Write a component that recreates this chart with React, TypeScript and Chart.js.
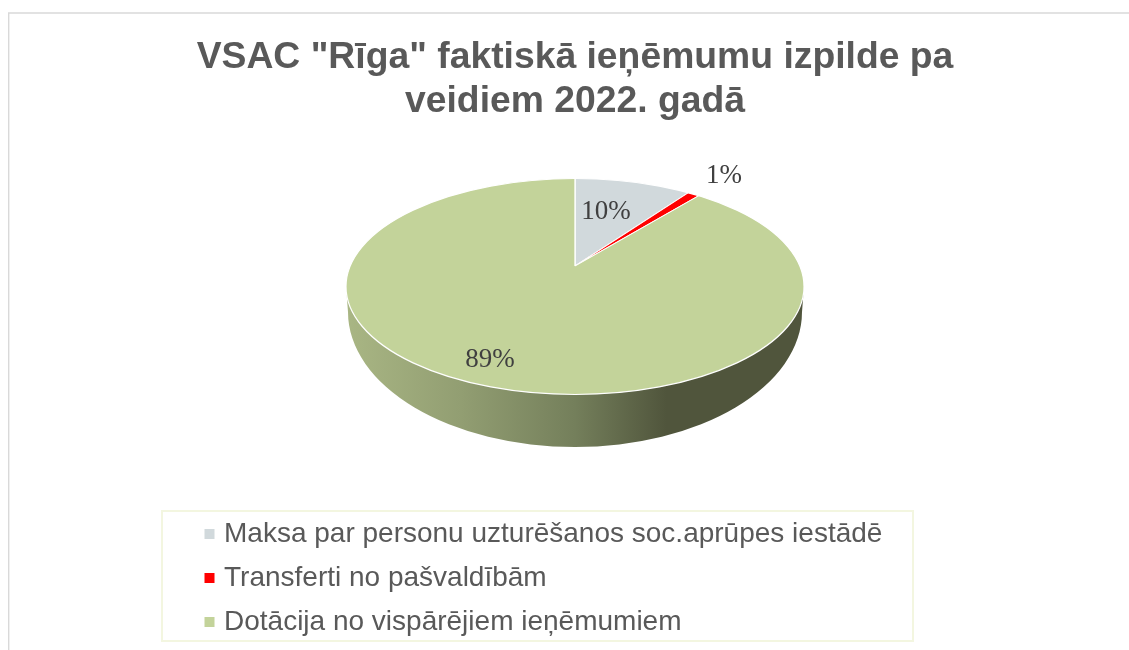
import React, { useEffect, useRef } from "react";
import { Chart, registerables } from "chart.js";

Chart.register(...registerables);

const titleLines = ['VSAC "Rīga" faktiskā ieņēmumu izpilde pa', "veidiem 2022. gadā"];
const categories = [
  "Maksa par personu uzturēšanos soc.aprūpes iestādē",
  "Transferti no pašvaldībām",
  "Dotācija no vispārējiem ieņēmumiem",
];
const values = [10, 1, 89];
const colors = ["#d1d9dc", "#ff0000", "#c3d39a"];
const labelCenters = [
  [606, 212],
  [724, 176],
  [490, 360],
];

const TOP = { cx: 575, cy: 286.5, rx: 229, ry: 108 };
const BASE = { cx: 575, cy: 312, rx: 227, ry: 135 };
const APEX = { x: 575, y: 266 };
const ZOOM = 1.3;
const TILT = 0.47;

const piePlugin = {
  id: "tiltedPie",
  beforeDraw(chart: any) {
    const { ctx } = chart;
    ctx.save();
    ctx.strokeStyle = "#d9d9d9";
    ctx.lineWidth = 1.4;
    ctx.beginPath();
    ctx.moveTo(8.7, 650);
    ctx.lineTo(8.7, 13);
    ctx.lineTo(1129, 13);
    ctx.stroke();
    ctx.restore();
  },
  beforeDatasetsDraw(chart: any) {
    const { ctx, chartArea } = chart;
    ctx.save();
    const g = ctx.createLinearGradient(TOP.cx - TOP.rx, 0, TOP.cx + TOP.rx, 0);
    g.addColorStop(0, "#a9b684");
    g.addColorStop(0.25, "#929e72");
    g.addColorStop(0.5, "#747f5b");
    g.addColorStop(0.7, "#50553c");
    g.addColorStop(1, "#50553c");
    ctx.fillStyle = g;
    ctx.beginPath();
    ctx.moveTo(TOP.cx - TOP.rx, TOP.cy);
    ctx.lineTo(BASE.cx - BASE.rx, BASE.cy);
    ctx.ellipse(BASE.cx, BASE.cy, BASE.rx, BASE.ry, 0, Math.PI, 0, true);
    ctx.lineTo(TOP.cx + TOP.rx, TOP.cy);
    ctx.closePath();
    ctx.fill();

    ctx.beginPath();
    ctx.ellipse(TOP.cx, TOP.cy, TOP.rx, TOP.ry, 0, 0, Math.PI * 2);
    ctx.clip();
    const pcx = (chartArea.left + chartArea.right) / 2;
    const pcy = (chartArea.top + chartArea.bottom) / 2;
    ctx.translate(APEX.x, APEX.y);
    ctx.scale(ZOOM, ZOOM * TILT);
    ctx.translate(-pcx, -pcy);
  },
  afterDatasetsDraw(chart: any) {
    const { ctx } = chart;
    ctx.restore();
    ctx.save();
    ctx.strokeStyle = "#ffffff";
    ctx.lineWidth = 1.2;
    ctx.beginPath();
    ctx.ellipse(TOP.cx, TOP.cy, TOP.rx, TOP.ry, 0, 0, Math.PI * 2);
    ctx.stroke();

    const total = values.reduce((a, b) => a + b, 0);
    ctx.fillStyle = "#404040";
    ctx.font = '27px "Liberation Serif"';
    ctx.textAlign = "center";
    ctx.textBaseline = "middle";
    values.forEach((v, i) => {
      ctx.fillText(`${Math.round((v / total) * 100)}%`, labelCenters[i][0], labelCenters[i][1]);
    });
    ctx.restore();
  },
  afterLayout(chart: any) {
    const l = chart.legend;
    const w = l.width;
    l.left = 193;
    l.top = 504;
    l.right = l.left + w;
    l.height = 260;
    l.bottom = l.top + l.height;
  },
  afterDraw(chart: any) {
    const { ctx } = chart;
    ctx.save();
    ctx.strokeStyle = "#f3f6e0";
    ctx.lineWidth = 2;
    ctx.strokeRect(162, 511, 751, 130);
    ctx.restore();
  },
};

export default function App() {
  const ref = useRef<HTMLCanvasElement | null>(null);
  useEffect(() => {
    const chart = new Chart(ref.current as HTMLCanvasElement, {
      type: "pie",
      data: {
        labels: categories,
        datasets: [
          {
            data: values,
            backgroundColor: colors,
            borderColor: "#ffffff",
            borderWidth: 1,
            clip: false,
          } as any,
        ],
      },
      options: {
        responsive: false,
        animation: false,
        layout: { padding: { left: 21 } },
        plugins: {
          tooltip: { enabled: false },
          title: {
            display: true,
            text: titleLines,
            color: "#595959",
            font: { family: '"Liberation Sans"', size: 37.3, weight: "bold", lineHeight: 1.18 },
            padding: { top: 36, bottom: 6 },
          },
          legend: {
            position: "chartArea" as any,
            align: "start",
            labels: {
              color: "#595959",
              font: { family: '"Liberation Sans"', size: 28 },
              usePointStyle: true,
              pointStyle: "rect",
              boxWidth: 1,
              boxHeight: 10,
              padding: 16,
              generateLabels(c: any) {
                return Chart.overrides.pie.plugins.legend.labels
                  .generateLabels(c)
                  .map((it: any) => ({ ...it, lineWidth: 0, pointStyle: "rect" }));
              },
            },
          },
        },
      },
      plugins: [piePlugin as any],
    });
    return () => chart.destroy();
  }, []);
  return (
    <div style={{ position: "fixed", left: 0, top: 0, width: 1129, height: 650, overflow: "hidden", background: "#fff" }}>
      <canvas ref={ref} width={1129} height={650} style={{ display: "block" }} />
    </div>
  );
}
